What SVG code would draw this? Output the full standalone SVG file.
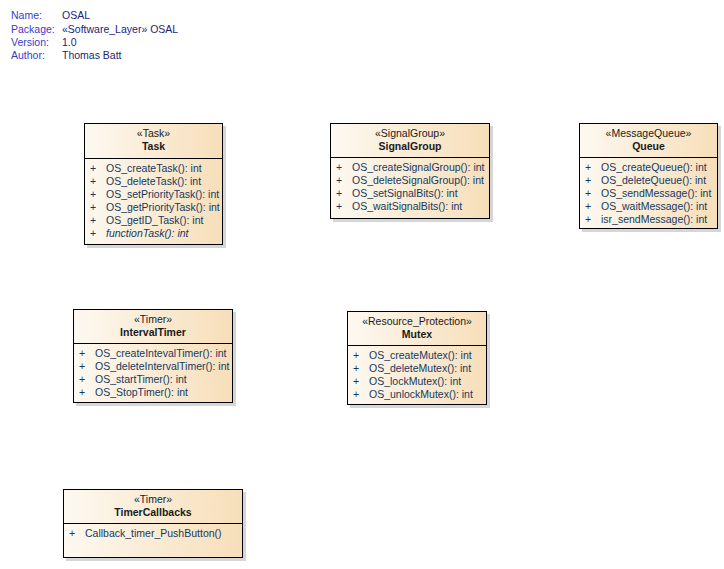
<svg xmlns="http://www.w3.org/2000/svg" width="724" height="569" viewBox="0 0 724 569">
<style>
text{font-family:"Liberation Sans",Arial,sans-serif;font-size:10.5px}
.lbl{fill:#3a3ac8}
.val{fill:#1e2478}
.st{fill:#1a1a1a;text-anchor:middle}
.nm{fill:#1a1a1a;text-anchor:middle;font-weight:bold}
.m{fill:#16385e}
.it{font-style:italic}
.box{fill:url(#g);stroke:#000;stroke-width:1}
.sh{fill:#d6d6d6}
.dv{stroke:#000;stroke-width:1}
</style>
<defs>
<linearGradient id="g" x1="0" y1="0" x2="1" y2="0">
<stop offset="0" stop-color="#fdf9f1"/>
<stop offset="1" stop-color="#f7deb9"/>
</linearGradient>
<clipPath id="cIT"><rect x="73" y="309" width="160.5" height="94"/></clipPath>
</defs>
<rect width="724" height="569" fill="#fff"/>
<g id="header">
<text class="lbl" x="11" y="19">Name:</text><text class="val" x="62" y="19">OSAL</text>
<text class="lbl" x="11" y="33">Package:</text><text class="val" x="62" y="33">«Software_Layer» OSAL</text>
<text class="lbl" x="11" y="46">Version:</text><text class="val" x="62" y="46">1.0</text>
<text class="lbl" x="11" y="58.5">Author:</text><text class="val" x="62" y="58.5">Thomas Batt</text>
</g>
<g id="connectors"></g>
<g id="Task">
<rect class="sh" x="87" y="126" width="139" height="122"/>
<rect class="box" x="84.5" y="123.5" width="138" height="121"/>
<line class="dv" x1="84.5" y1="158.5" x2="222.5" y2="158.5"/>
<text class="st" x="153.5" y="136.5">«Task»</text>
<text class="nm" x="153.5" y="150">Task</text>
<text class="m" x="90" y="171.5">+</text><text class="m" x="106" y="171.5">OS_createTask(): int</text>
<text class="m" x="90" y="184.5">+</text><text class="m" x="106" y="184.5">OS_deleteTask(): int</text>
<text class="m" x="90" y="197.5">+</text><text class="m" x="106" y="197.5">OS_setPriorityTask(): int</text>
<text class="m" x="90" y="210.5">+</text><text class="m" x="106" y="210.5">OS_getPriorityTask(): int</text>
<text class="m" x="90" y="223.5">+</text><text class="m" x="106" y="223.5">OS_getID_Task(): int</text>
<text class="m" x="90" y="236.5">+</text><text class="m it" x="106" y="236.5">functionTask(): int</text>
</g>
<g id="SignalGroup">
<rect class="sh" x="333" y="126" width="160" height="96"/>
<rect class="box" x="330.5" y="123.5" width="159" height="95"/>
<line class="dv" x1="330.5" y1="157.5" x2="489.5" y2="157.5"/>
<text class="st" x="410" y="136.5">«SignalGroup»</text>
<text class="nm" x="410" y="150">SignalGroup</text>
<text class="m" x="336" y="171">+</text><text class="m" x="352" y="171">OS_createSignalGroup(): int</text>
<text class="m" x="336" y="184">+</text><text class="m" x="352" y="184">OS_deleteSignalGroup(): int</text>
<text class="m" x="336" y="197">+</text><text class="m" x="352" y="197">OS_setSignalBits(): int</text>
<text class="m" x="336" y="210">+</text><text class="m" x="352" y="210">OS_waitSignalBits(): int</text>
</g>
<g id="Queue">
<rect class="sh" x="582" y="126" width="139" height="106"/>
<rect class="box" x="579.5" y="123.5" width="138" height="105"/>
<line class="dv" x1="579.5" y1="157.5" x2="717.5" y2="157.5"/>
<text class="st" x="648.5" y="136.5">«MessageQueue»</text>
<text class="nm" x="648.5" y="150">Queue</text>
<text class="m" x="585" y="171">+</text><text class="m" x="601" y="171">OS_createQueue(): int</text>
<text class="m" x="585" y="184">+</text><text class="m" x="601" y="184">OS_deleteQueue(): int</text>
<text class="m" x="585" y="197">+</text><text class="m" x="601" y="197">OS_sendMessage(): int</text>
<text class="m" x="585" y="210">+</text><text class="m" x="601" y="210">OS_waitMessage(): int</text>
<text class="m" x="585" y="223">+</text><text class="m" x="601" y="223">isr_sendMessage(): int</text>
</g>
<g id="IntervalTimer">
<rect class="sh" x="76" y="312" width="160" height="94"/>
<rect class="box" x="73.5" y="309.5" width="159" height="93"/>
<line class="dv" x1="73.5" y1="343.5" x2="232.5" y2="343.5"/>
<text class="st" x="153" y="322.5">«Timer»</text>
<text class="nm" x="153" y="336">IntervalTimer</text>
<g clip-path="url(#cIT)">
<text class="m" x="79" y="357">+</text><text class="m" x="95" y="357">OS_createIntevalTimer(): int</text>
<text class="m" x="79" y="370">+</text><text class="m" x="95" y="370">OS_deleteIntervalTimer(): int</text>
<text class="m" x="79" y="383">+</text><text class="m" x="95" y="383">OS_startTimer(): int</text>
<text class="m" x="79" y="396">+</text><text class="m" x="95" y="396">OS_StopTimer(): int</text>
</g>
</g>
<g id="Mutex">
<rect class="sh" x="350" y="314" width="140" height="94"/>
<rect class="box" x="347.5" y="311.5" width="139" height="93"/>
<line class="dv" x1="347.5" y1="345.5" x2="486.5" y2="345.5"/>
<text class="st" x="417" y="324.5">«Resource_Protection»</text>
<text class="nm" x="417" y="338">Mutex</text>
<text class="m" x="353" y="359">+</text><text class="m" x="369" y="359">OS_createMutex(): int</text>
<text class="m" x="353" y="372">+</text><text class="m" x="369" y="372">OS_deleteMutex(): int</text>
<text class="m" x="353" y="385">+</text><text class="m" x="369" y="385">OS_lockMutex(): int</text>
<text class="m" x="353" y="398">+</text><text class="m" x="369" y="398">OS_unlockMutex(): int</text>
</g>
<g id="TimerCallbacks">
<rect class="sh" x="66" y="492" width="180" height="69"/>
<rect class="box" x="63.5" y="489.5" width="179" height="68"/>
<line class="dv" x1="63.5" y1="523.5" x2="242.5" y2="523.5"/>
<text class="st" x="153" y="502.5">«Timer»</text>
<text class="nm" x="153" y="516">TimerCallbacks</text>
<text class="m" x="69" y="537">+</text><text class="m" x="85" y="537">Callback_timer_PushButton()</text>
</g>
</svg>
